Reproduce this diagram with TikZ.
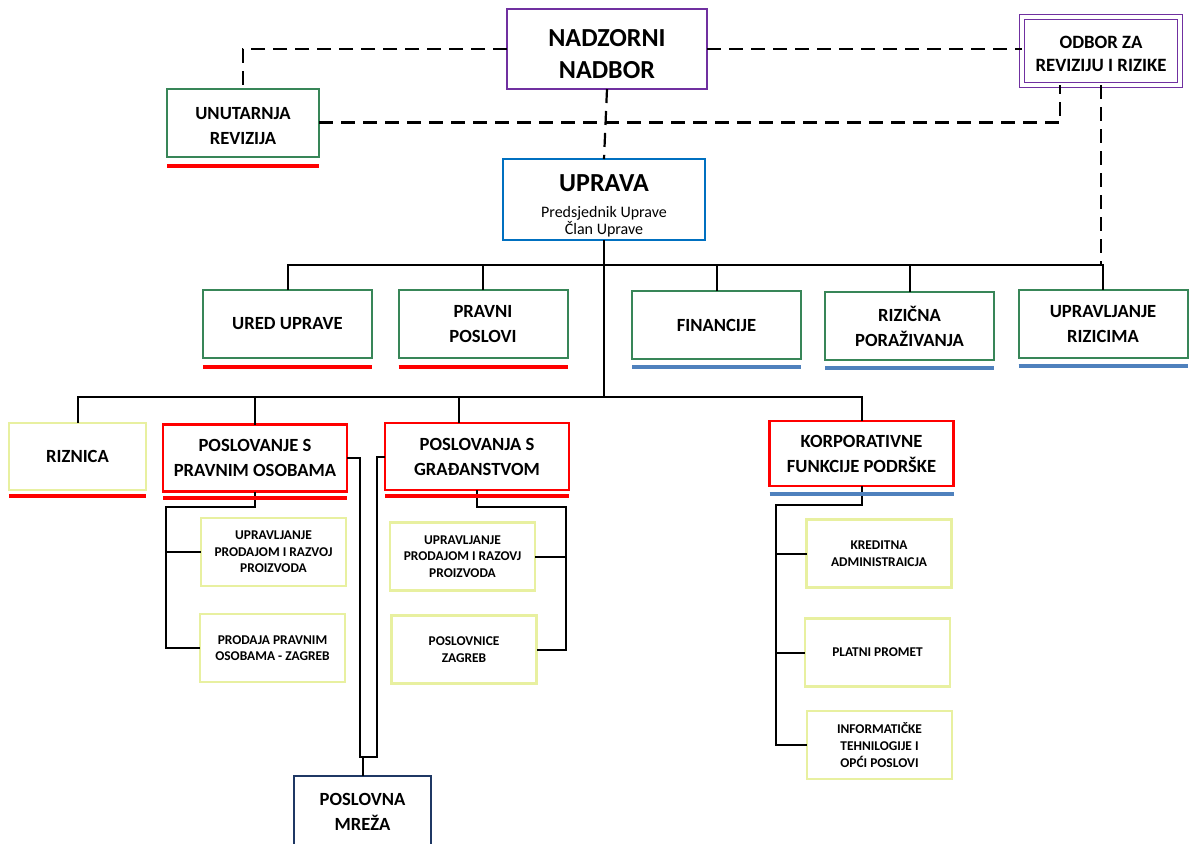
\documentclass[tikz,border=0pt]{standalone}
\usepackage{fontspec}
\setmainfont{Carlito}
\usetikzlibrary{calc}
\definecolor{nadzorpurple}{RGB}{112,48,160}
\definecolor{boxgreen}{RGB}{56,134,88}
\definecolor{upravablue}{RGB}{0,112,192}
\definecolor{barblue}{RGB}{79,129,189}
\definecolor{paleyellow}{RGB}{232,240,160}
\definecolor{mrezanavy}{RGB}{31,56,100}
\newcommand{\lift}[1]{\rule{0pt}{#1}}

\begin{document}
\begin{tikzpicture}[x=0.5pt, y=-0.5pt,
          every node/.style = {align     = center,
                               inner sep = 0pt,
                               outer sep = 0pt},
          unit/.style       = {draw, line width = 1pt,
                               font = \fontsize{9.3}{12.5}\selectfont\bfseries},
          board/.style      = {unit, draw = nadzorpurple,
                               minimum width  = 100pt,
                               minimum height = 40pt,
                               font = \fontsize{13}{16}\selectfont\bfseries},
          committee/.style  = {draw = nadzorpurple, line width = 0.6pt,
                               double = white, double distance = 1.6pt,
                               minimum width  = 79pt,
                               minimum height = 34pt,
                               font = \fontsize{9.4}{11.5}\selectfont\bfseries},
          office/.style     = {unit, draw = boxgreen,
                               minimum width  = 84.5pt,
                               minimum height = 34pt},
          sector/.style     = {unit, draw = red, line width = 1.2pt,
                               minimum width  = 92pt,
                               minimum height = 33.5pt},
          dept/.style       = {unit, draw = paleyellow, line width = 1.4pt,
                               minimum width  = 72.5pt,
                               minimum height = 34pt,
                               font = \fontsize{6.7}{8.3}\selectfont\bfseries},
          conn/.style       = {draw, line width = 1pt},
          dashline/.style   = {draw, line width = 1.1pt,
                               dash pattern = on 7pt off 4pt},
          redbar/.style     = {draw = red, line width = 2pt},
          bluebar/.style    = {draw = barblue, line width = 2pt}]

  \useasboundingbox (0,0) rectangle (1189,843);
  \clip (0,0) rectangle (1189,843);

  % top
  \node[board] (nadzor) at (607,49) {\lift{13.4pt}NADZORNI\\NADBOR};
  \node[committee] (odbor) at (1101,51) {\lift{9pt}ODBOR ZA\\REVIZIJU I RIZIKE};
  \node[office, minimum width = 76pt] (unutarnja) at (243,122.5) {\lift{9.5pt}UNUTARNJA\\REVIZIJA};
  \node[unit, draw = upravablue, minimum width = 101pt, minimum height = 40.5pt,
        font = \fontsize{8}{8.5}\selectfont] (uprava) at (604,199.5)
        {\fontsize{13}{13.5}\selectfont\bfseries\lift{14.4pt}UPRAVA\\[4.5pt]
         Predsjednik Uprave\\Član Uprave};

  % first row
  \node[office] (ured)        at (287.5,324) {URED UPRAVE};
  \node[office] (pravni)      at (483,324)   {PRAVNI\\POSLOVI};
  \node[office] (financije)   at (716.5,325) {FINANCIJE};
  \node[office] (rizicna)     at (909.5,326) {RIZIČNA\\PORAŽIVANJA};
  \node[office] (upravljanje) at (1103,324)  {UPRAVLJANJE\\RIZICIMA};

  % second row
  \node[unit, draw = paleyellow, line width = 1.4pt,
        minimum width = 68.5pt, minimum height = 33.5pt] (riznica) at (77.5,456.5) {RIZNICA};
  \node[sector] (pospravni) at (255,458)   {POSLOVANJE S\\PRAVNIM OSOBAMA};
  \node[sector] (posgradj)  at (477,456.5) {POSLOVANJA S\\GRAĐANSTVOM};
  \node[sector, minimum height = 32.5pt] (korp) at (861.5,453.5) {KORPORATIVNE\\FUNKCIJE PODRŠKE};

  % departments
  \node[dept] (uprodA)       at (273.5,552) {UPRAVLJANJE\\PRODAJOM I RAZVOJ\\PROIZVODA};
  \node[dept] (prodaja)      at (272.5,648) {PRODAJA PRAVNIM\\OSOBAMA - ZAGREB};
  \node[dept] (uprodB)       at (462.5,556.5) {UPRAVLJANJE\\PRODAJOM I RAZOVJ\\PROIZVODA};
  \node[dept] (poslovnice)   at (464,649.5) {POSLOVNICE\\ZAGREB};
  \node[dept] (kreditna)     at (879,553.5) {KREDITNA\\ADMINISTRAICJA};
  \node[dept] (platni)       at (877.5,652.5) {PLATNI PROMET};
  \node[dept] (informaticke) at (879.5,745) {INFORMATIČKE\\TEHNILOGIJE I\\OPĆI POSLOVI};
  \node[unit, draw = mrezanavy, minimum width = 68.5pt, minimum height = 36pt] (mreza) at (362.5,812)
        {POSLOVNA\\MREŽA};

  \path (604,265)  coordinate (busA)
        (604,397)  coordinate (busB)
        (166,507)  coordinate (lspine)
        (566,507)  coordinate (rspine)
        (776,505)  coordinate (kspine)
        (360,757)  coordinate (mleft)
        (377,757)  coordinate (mright);

  % dashed lines
  \draw[dashline] (nadzor.west) -| (unutarnja.north);
  \draw[dashline] (nadzor.east) -- (nadzor.east -| odbor.west);
  \draw[dashline] (unutarnja.east) -| ($(odbor.south)+(-41,0)$);
  \draw[dashline] (nadzor.south) -- (uprava.north);
  \draw[dashline] (odbor.south) -- (odbor.south |- busA);

  % solid lines
  \draw[conn] (uprava.south) -- (uprava.south |- busB);
  \draw[conn] (ured.north) |- (upravljanje.north |- busA) -- (upravljanje.north);
  \foreach \n in {pravni,financije,rizicna}
    \draw[conn] (\n.north) -- (\n.north |- busA);
  \draw[conn] (riznica.north) |- (korp.north |- busB) -- (korp.north);
  \draw[conn] (pospravni.north) -- (pospravni.north |- busB);
  \draw[conn] ($(posgradj.north)+(-18,0)$) -- ($(posgradj.north |- busB)+(-18,0)$);

  \draw[conn] (pospravni.south) |- (lspine) |- (prodaja.west);
  \draw[conn] (lspine |- uprodA.west) -- (uprodA.west);
  \draw[conn] (posgradj.south) |- (rspine) |- (poslovnice.east);
  \draw[conn] (rspine |- uprodB.east) -- (uprodB.east);
  \draw[conn] (korp.south) |- (kspine) |- (informaticke.west);
  \foreach \n in {kreditna,platni}
    \draw[conn] (kspine |- \n.west) -- (\n.west);

  \draw[conn] (pospravni.east) -| (mleft) -- (mright) |- (posgradj.west);
  \draw[conn] (mreza.north |- mleft) -- (mreza.north);

  % bars under boxes
  \foreach \n in {unutarnja,ured,pravni}
    \draw[redbar] ([yshift=-4.5pt]\n.south west) -- ([yshift=-4.5pt]\n.south east);
  \foreach \n in {riznica,pospravni,posgradj}
    \draw[redbar] ([yshift=-3pt]\n.south west) -- ([yshift=-3pt]\n.south east);
  \foreach \n in {financije,rizicna,upravljanje,korp}
    \draw[bluebar] ([yshift=-4pt]\n.south west) -- ([yshift=-4pt]\n.south east);
\end{tikzpicture}
\end{document}
